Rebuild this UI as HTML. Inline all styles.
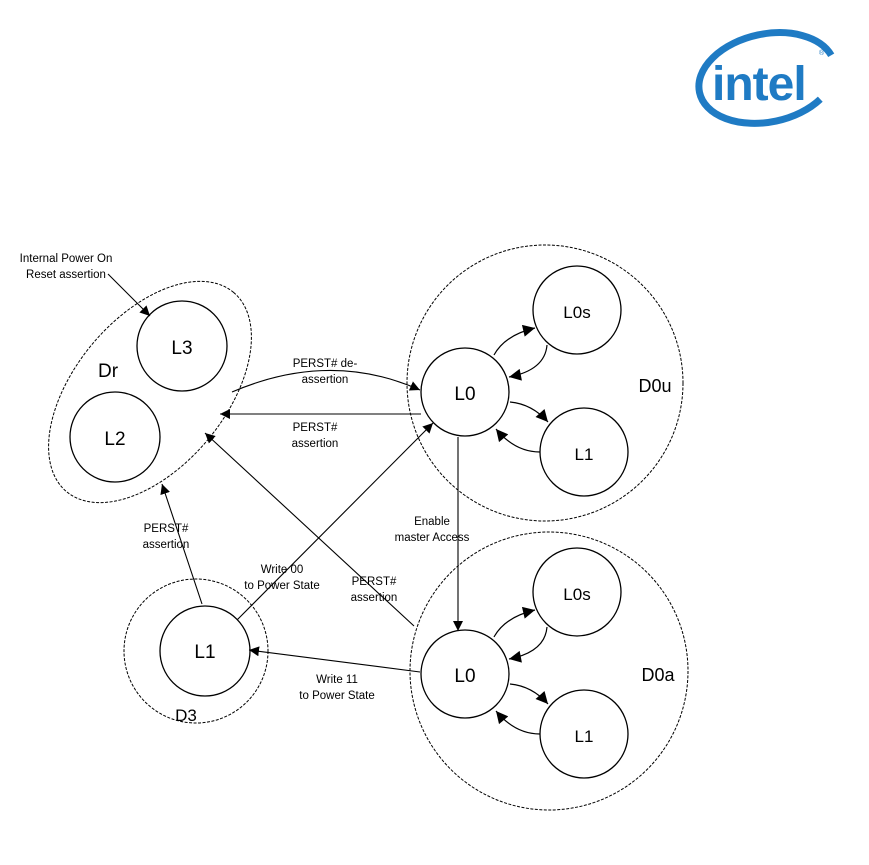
<!DOCTYPE html>
<html><head><style>
body{margin:0;background:#fff}
svg{display:block}
text{font-family:"Liberation Sans",sans-serif;fill:#000}
</style></head><body>
<svg width="869" height="865" viewBox="0 0 869 865" xmlns="http://www.w3.org/2000/svg">
<defs>
<marker id="a" viewBox="0 0 10 10" refX="10" refY="5" markerWidth="10" markerHeight="10" markerUnits="userSpaceOnUse" orient="auto"><path d="M0,0L10,5L0,10z" fill="#000"/></marker>
<marker id="b" viewBox="0 0 10 10" refX="10" refY="5" markerWidth="14" markerHeight="12" markerUnits="userSpaceOnUse" orient="auto"><path d="M0,0L10,5L0,10z" fill="#000"/></marker>
<g id="clu">
<circle cx="465" cy="392" r="44" fill="#fff" stroke="#000" stroke-width="1.3"/>
<circle cx="577" cy="310" r="44" fill="#fff" stroke="#000" stroke-width="1.3"/>
<circle cx="584" cy="452" r="44" fill="#fff" stroke="#000" stroke-width="1.3"/>
<text x="465" y="400" font-size="19" text-anchor="middle">L0</text>
<text x="577" y="318" font-size="17" text-anchor="middle">L0s</text>
<text x="584" y="460" font-size="17" text-anchor="middle">L1</text>
<path d="M494,355 Q505,335 535,328" fill="none" stroke="#000" stroke-width="1.2" marker-end="url(#b)"/>
<path d="M547,345 Q545,370 509,377" fill="none" stroke="#000" stroke-width="1.2" marker-end="url(#b)"/>
<path d="M510,402 Q532,404 548,422" fill="none" stroke="#000" stroke-width="1.2" marker-end="url(#b)"/>
<path d="M540,452 Q515,452 496,429" fill="none" stroke="#000" stroke-width="1.2" marker-end="url(#b)"/>
</g>
</defs>

<!-- intel logo -->
<ellipse cx="767" cy="78" rx="69" ry="44" transform="rotate(-12 767 78)" fill="none" stroke="#1f7bc4" stroke-width="7" stroke-dasharray="310 60" stroke-dashoffset="-40"/>
<text x="712" y="100" font-size="48" font-weight="bold" style="fill:#1f7bc4;letter-spacing:-1px">intel</text>
<text x="819" y="55" font-size="7" style="fill:#1f7bc4">®</text>

<!-- Dr -->
<ellipse cx="150" cy="392" rx="130" ry="75" transform="rotate(-50 150 392)" fill="none" stroke="#000" stroke-width="1" stroke-dasharray="3 1.5"/>
<circle cx="182" cy="346" r="45" fill="none" stroke="#000" stroke-width="1.3"/>
<circle cx="115" cy="437" r="45" fill="none" stroke="#000" stroke-width="1.3"/>
<text x="182" y="354" font-size="19" text-anchor="middle">L3</text>
<text x="115" y="445" font-size="19" text-anchor="middle">L2</text>
<text x="108" y="377" font-size="19" text-anchor="middle">Dr</text>

<!-- D0u / D0a -->
<circle cx="545" cy="383" r="138" fill="none" stroke="#000" stroke-width="1" stroke-dasharray="3 1.5"/>
<circle cx="549" cy="671" r="139" fill="none" stroke="#000" stroke-width="1" stroke-dasharray="3 1.5"/>
<text x="655" y="392" font-size="18" text-anchor="middle">D0u</text>
<text x="658" y="681" font-size="18" text-anchor="middle">D0a</text>
<use href="#clu"/>
<use href="#clu" transform="translate(0,282)"/>

<!-- D3 -->
<circle cx="196" cy="651" r="72" fill="none" stroke="#000" stroke-width="1" stroke-dasharray="3 1.5"/>
<circle cx="205" cy="651" r="45" fill="none" stroke="#000" stroke-width="1.3"/>
<text x="205" y="658" font-size="19" text-anchor="middle">L1</text>
<text x="186" y="721" font-size="17" text-anchor="middle">D3</text>

<!-- arrows -->
<g fill="none" stroke="#000" stroke-width="1.1">
<path d="M108,274 L150,316" marker-end="url(#a)"/>
<path d="M232,392 Q330,350 420,390" marker-end="url(#a)"/>
<path d="M421,414 L220,414" marker-end="url(#a)"/>
<path d="M237,620 L433,423" marker-end="url(#a)"/>
<path d="M414,626 L205,433" marker-end="url(#a)"/>
<path d="M202,604 L162,484" marker-end="url(#a)"/>
<path d="M458,437 L458,631" marker-end="url(#a)"/>
<path d="M420,672 L249,650" marker-end="url(#a)"/>
</g>

<g font-size="11.5" text-anchor="middle">
<text x="66" y="262">Internal Power On</text>
<text x="66" y="278">Reset assertion</text>
<text x="325" y="367">PERST# de-</text>
<text x="325" y="383">assertion</text>
<text x="315" y="431">PERST#</text>
<text x="315" y="447">assertion</text>
<text x="432" y="525">Enable</text>
<text x="432" y="541">master Access</text>
<text x="166" y="532">PERST#</text>
<text x="166" y="548">assertion</text>
<text x="282" y="573">Write 00</text>
<text x="282" y="589">to Power State</text>
<text x="374" y="585">PERST#</text>
<text x="374" y="601">assertion</text>
<text x="337" y="683">Write 11</text>
<text x="337" y="699">to Power State</text>
</g>
</svg>
</body></html>
